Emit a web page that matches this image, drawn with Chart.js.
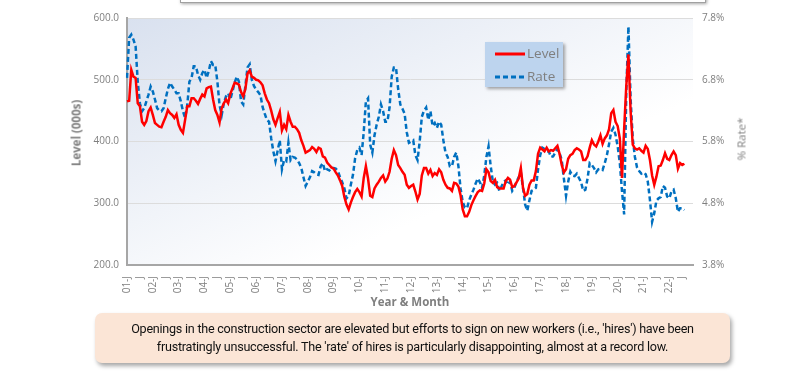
<!DOCTYPE html>
<html>
<head>
<meta charset="utf-8">
<script src="https://cdn.jsdelivr.net/npm/chart.js"></script>
<style>
  body { margin: 0; background: #fff; }
  #wrap { position: relative; width: 800px; height: 371px; overflow: hidden; font-family: "Open Sans", sans-serif; }
  #chartBox { position: absolute; left: 0; top: 0; width: 800px; height: 371px; }
  .topBar { position: absolute; left: 180px; top: -12px; width: 524px; height: 13px; background: #fff; border: 1.5px solid #a0a0a0; box-shadow: 1px 1px 3px rgba(0,0,0,0.35); }
  .axTitle { position: absolute; color: #7f7f7f; font-size: 11.5px; white-space: nowrap; }
  #legend { position: absolute; left: 485px; top: 42px; width: 78px; height: 45px; background: #bdd4ee; box-shadow: 2px 2px 3px rgba(0,0,0,0.35); }
  #legend div { position: absolute; left: 10px; height: 16px; font-size: 13.5px; color: #7f7f7f; line-height: 16px; white-space: nowrap; }
  #legend svg { vertical-align: middle; margin-right: 2px; }
  #note { position: absolute; left: 95px; top: 313px; width: 635px; height: 50px; background: #fbe5d6; border-radius: 7px; box-shadow: 2px 3px 4px rgba(0,0,0,0.35); text-align: center; font-family: Roboto, sans-serif; font-size: 12.6px; letter-spacing: -0.25px; line-height: 18px; color: #111; padding-top: 7px; box-sizing: border-box; white-space: nowrap; }
</style>
</head>
<body>
<div id="wrap">
  <div class="topBar"></div>
  <div id="chartBox"><canvas id="myChart"></canvas></div>
  <div class="axTitle" style="left:76px; top:133px; font-weight:bold; transform: translate(-50%,-50%) rotate(-90deg);">Level (000s)</div>
  <div class="axTitle" style="left:741px; top:139px; transform: translate(-50%,-50%) rotate(-90deg);">% Rate*</div>
  <div class="axTitle" style="left:410px; top:301px; font-weight:bold; transform: translate(-50%,-50%);">Year &amp; Month</div>
  <div id="legend">
    <div style="top:3px"><svg width="30" height="4"><line x1="0" y1="2" x2="30" y2="2" stroke="#ff0000" stroke-width="3"/></svg>Level</div>
    <div style="top:26px"><svg width="30" height="4"><line x1="0" y1="2" x2="30" y2="2" stroke="#0070c0" stroke-width="3" stroke-dasharray="5,3"/></svg>Rate</div>
  </div>
  <div id="note">Openings in the construction sector are elevated but efforts to sign on new workers (i.e., 'hires') have been<br>frustratingly unsuccessful. The 'rate' of hires is particularly disappointing, almost at a record low.</div>
</div>

<script>
// years shown on the x axis, axis runs Jan 2001 .. Dec 2022
const years = ['01','02','03','04','05','06','07','08','09','10','11','12','13','14','15','16','17','18','19','20','21','22'];
const monthCodes = ['J','F','M','A','M','J','J','A','S','O','N','D'];

// job openings level (000s), monthly from 2001-01
const level = [
  465, 466, 516, 505, 503, 462, 457, 432, 427, 433, 449, 455,
  443, 430, 427, 424, 423, 432, 440, 451, 446, 443, 438, 444,
  427, 419, 414, 435, 457, 457, 470, 470, 466, 461, 469, 476,
  473, 486, 488, 489, 468, 451, 443, 431, 454, 462, 468, 462,
  477, 486, 495, 494, 492, 480, 473, 485, 510, 515, 505, 503,
  500, 499, 496, 491, 478, 468, 462, 450, 436, 427, 438, 448,
  418, 427, 420, 443, 432, 424, 424, 420, 414, 402, 393, 382,
  384, 386, 391, 388, 383, 390, 388, 376, 374, 366, 362, 358,
  356, 350, 345, 337, 328, 310, 298, 290, 301, 310, 318, 323,
  318, 311, 341, 360, 340, 312, 310, 324, 330, 335, 341, 345,
  335, 340, 351, 372, 386, 378, 362, 357, 351, 346, 330, 325,
  328, 330, 319, 306, 315, 345, 357, 357, 348, 354, 344, 349,
  346, 355, 350, 338, 330, 325, 324, 320, 333, 332, 327, 313,
  290, 279, 279, 286, 297, 305, 312, 318, 321, 320, 332, 355,
  350, 336, 333, 338, 326, 324, 324, 324, 336, 341, 338, 326,
  328, 334, 340, 357, 325, 312, 315, 330, 337, 337, 352, 380,
  390, 387, 384, 390, 384, 386, 385, 389, 393, 380, 362, 350,
  355, 372, 378, 380, 386, 389, 387, 384, 370, 370, 376, 390,
  402, 395, 392, 400, 410, 396, 405, 410, 420, 446, 451, 432,
  425, 405, 341, 420, 490, 541, 450, 395, 389, 387, 389, 385,
  382, 393, 388, 370, 345, 330, 343, 360, 361, 370, 381, 372,
  370, 378, 384, 378, 356, 365, 362, 364
];

// hires rate (%), monthly from 2001-01
const rate = [
  6.83, 7.48, 7.53, 7.45, 7.34, 6.77, 6.42, 6.29, 6.34, 6.45, 6.56, 6.69,
  6.61, 6.48, 6.34, 6.30, 6.29, 6.34, 6.50, 6.65, 6.75, 6.69, 6.64, 6.58,
  6.58, 6.45, 6.29, 6.18, 6.39, 6.77, 6.83, 7.02, 7.02, 6.88, 6.80, 6.91,
  6.96, 6.83, 6.94, 7.10, 7.04, 7.04, 6.77, 6.39, 6.23, 6.42, 6.53, 6.58,
  6.48, 6.61, 6.75, 6.85, 6.77, 6.45, 6.40, 6.70, 7.00, 7.05, 6.80, 6.70,
  6.64, 6.60, 6.55, 6.36, 6.25, 6.15, 6.12, 5.85, 5.64, 5.48, 5.65, 5.82,
  5.35, 5.50, 5.48, 5.78, 5.50, 5.55, 5.54, 5.51, 5.45, 5.37, 5.22, 5.08,
  5.15, 5.22, 5.32, 5.30, 5.27, 5.26, 5.40, 5.45, 5.32, 5.35, 5.33, 5.37,
  5.37, 5.36, 5.32, 5.22, 5.14, 5.04, 4.88, 4.92, 5.10, 5.26, 5.53, 5.66,
  5.70, 5.58, 5.95, 6.45, 6.50, 5.75, 5.62, 5.90, 6.07, 6.20, 6.40, 6.29,
  6.12, 6.12, 6.35, 6.85, 7.00, 7.00, 6.65, 6.40, 6.33, 6.25, 5.95, 5.78,
  5.80, 5.82, 5.58, 5.50, 5.80, 6.20, 6.30, 6.35, 6.15, 6.29, 6.05, 6.10,
  6.02, 6.12, 6.07, 5.82, 5.62, 5.55, 5.40, 5.40, 5.55, 5.62, 5.40, 5.04,
  4.82, 4.73, 4.72, 4.85, 4.94, 5.02, 5.12, 5.20, 5.14, 5.05, 5.25, 5.55,
  5.72, 5.40, 5.15, 5.10, 5.13, 5.00, 5.07, 5.15, 5.17, 5.10, 5.15, 5.00,
  5.05, 5.15, 5.22, 5.30, 5.05, 4.78, 4.68, 4.85, 5.00, 5.02, 5.05, 5.35,
  5.58, 5.70, 5.68, 5.64, 5.64, 5.55, 5.56, 5.62, 5.68, 5.61, 5.50, 5.20,
  4.92, 5.15, 5.31, 5.25, 5.24, 5.28, 5.21, 5.14, 5.00, 5.02, 5.20, 5.45,
  5.42, 5.37, 5.30, 5.35, 5.36, 5.34, 5.45, 5.58, 5.76, 5.96, 6.02, 5.91,
  5.72, 5.45, 5.00, 4.62, 6.60, 7.66, 6.50, 5.85, 5.55, 5.38, 5.32, 5.28,
  5.30, 5.27, 5.15, 4.85, 4.50, 4.64, 4.84, 4.88, 4.90, 5.08, 5.05, 4.91,
  4.88, 4.99, 5.02, 4.88, 4.66, 4.72, 4.72, 4.69
];

// one category per month
let labels = [];
years.forEach(y => {
  monthCodes.forEach((m, pos) => {
    labels.push(y + '-' + m + pos);
  });
});

const grey = '#7f7f7f';
const tickFont = { family: "'Open Sans', sans-serif", size: 10 };

// plot area fill, light blue fading to white
const plotBg = {
  id: 'plotBg',
  beforeDraw(chart) {
    const a = chart.chartArea;
    const ctx = chart.ctx;
    let g = ctx.createLinearGradient(a.left, a.top, a.left + 121, a.top + 277);
    g.addColorStop(0, '#d9e1ef');
    g.addColorStop(1, '#ffffff');
    ctx.save();
    ctx.fillStyle = g;
    ctx.fillRect(a.left, a.top, a.right - a.left, a.bottom - a.top);
    ctx.restore();
  }
};

let ctx = document.getElementById('myChart').getContext('2d');
let myChart = new Chart(ctx, {
  type: 'line',
  data: {
    labels: labels,
    datasets: [{
      label: 'Level',
      data: level,
      yAxisID: 'yL',
      borderColor: '#ff0000',
      borderWidth: 2.5,
      pointRadius: 0,
      tension: 0
    }, {
      label: 'Rate',
      data: rate,
      yAxisID: 'yR',
      borderColor: '#0070c0',
      borderWidth: 2.5,
      borderDash: [5, 3],
      pointRadius: 0,
      tension: 0
    }]
  },
  options: {
    responsive: true,
    maintainAspectRatio: false,
    animation: false,
    layout: { padding: { top: 18, left: 0, right: 0, bottom: 0 } },
    plugins: {
      legend: { display: false },
      tooltip: { enabled: false }
    },
    scales: {
      x: {
        grid: { display: false },
        border: { display: true, color: '#a6a6a6', width: 2 },
        ticks: {
          autoSkip: false,
          minRotation: 90,
          maxRotation: 90,
          padding: 3,
          color: grey,
          font: { family: "'Open Sans', sans-serif", size: 10 },
          callback: (val, i) => {
            let m = i % 12;
            if (m == 0) return years[Math.floor(i / 12)] + '-J';
            if (m == 6) return 'J';
            return '';
          }
        },
        afterFit: (scale) => { scale.height = 106; }
      },
      yL: {
        position: 'left',
        min: 200,
        max: 600,
        ticks: {
          stepSize: 100,
          color: grey,
          font: tickFont,
          padding: 8,
          callback: (v) => v.toFixed(1)
        },
        grid: { color: '#dcdcdc', drawTicks: false },
        border: { display: true, color: '#a6a6a6', width: 2 },
        afterFit: (scale) => { scale.width = 127; }
      },
      yR: {
        position: 'right',
        min: 3.8,
        max: 7.8,
        ticks: {
          stepSize: 1,
          color: grey,
          font: tickFont,
          padding: 9,
          callback: (v) => v.toFixed(1) + '%'
        },
        grid: { display: false, drawTicks: false },
        border: { display: false },
        afterFit: (scale) => { scale.width = 107; }
      }
    }
  },
  plugins: [plotBg]
});
</script>
</body>
</html>
